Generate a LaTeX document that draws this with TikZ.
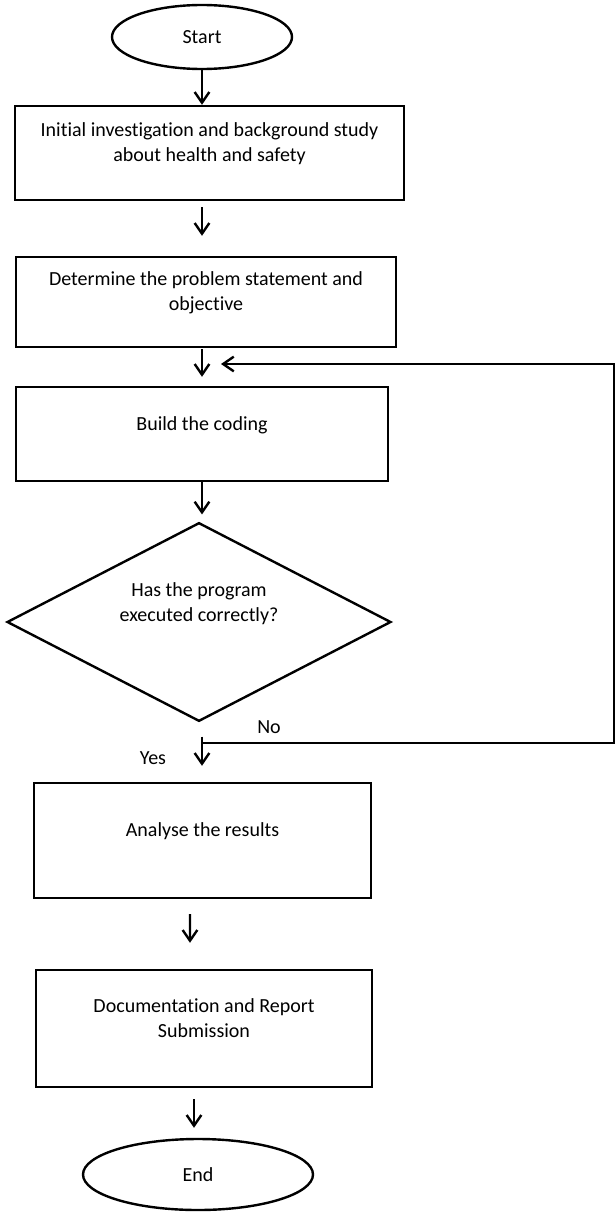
\documentclass[tikz,border=0pt]{standalone}
\usepackage{fontspec}
\setmainfont{Carlito}[Ligatures=NoCommon]
\usetikzlibrary{arrows.meta,shapes.geometric}

\begin{document}
\begin{tikzpicture}[x=0.75pt,y=0.75pt,
  every node/.style={font=\fontsize{15}{18.75}\selectfont},
  terminal/.style={draw,ellipse,line width=1.8pt,inner sep=0pt},
  procbox/.style={draw,rectangle,line width=1.8pt,align=center},
  decision/.style={draw,diamond,aspect=2,line width=1.8pt,align=center,inner sep=0pt},
  flow/.style={line width=1.8pt,-{Straight Barb[length=8pt,width=11pt]}}]
  \useasboundingbox (0,0) rectangle (616,-1213);
  % terminals, steps and the check
  \node[terminal,minimum width=135pt,minimum height=48pt] (start) at (202,-37) {Start};
  \node[procbox,minimum width=291.75pt,minimum height=70.5pt] (investigate) at (209.5,-153)
    {Initial investigation and background study\\about health and safety\\[-2.5pt]\mbox{}};
  \node[procbox,minimum width=285pt,minimum height=67.5pt] (problem) at (206,-302)
    {Determine the problem statement and\\objective\\[-2.5pt]\mbox{}};
  \node[procbox,minimum width=279pt,minimum height=70.5pt] (coding) at (202,-434)
    {Build the coding\\[-2.5pt]\mbox{}};
  \node[decision,minimum width=288pt,minimum height=149pt] (check) at (199,-622)
    {Has the program\\executed correctly?\\[11pt]\mbox{}};
  \node[procbox,minimum width=252.75pt,minimum height=86.25pt] (analyse) at (202.5,-840.5)
    {Analyse the results\\[-2.5pt]\mbox{}};
  \node[procbox,minimum width=252pt,minimum height=87.75pt] (report) at (204,-1028.5)
    {Documentation and Report\\Submission\\[-2.5pt]\mbox{}};
  \node[terminal,minimum width=172.5pt,minimum height=53.25pt] (finish) at (198,-1174.5) {End};
  % branch labels
  \node (no) at (269,-727) {No};
  \node (yes) at (153,-758) {Yes};
  % arrows down the chart
  \draw[flow] (start.south) -- (start.south |- investigate.north);
  \draw[flow,shorten <=4.5pt,shorten >=15pt] (start.south |- investigate.south) -- (start.south |- problem.north);
  \draw[flow,shorten <=0.75pt,shorten >=6.75pt] (problem.south -| coding.north) -- (coding.north);
  \draw[flow,shorten >=5.25pt] (coding.south) -- (coding.south |- check.north);
  \draw[flow,shorten <=10.5pt,shorten >=12pt] (coding.south |- check.south) -- (coding.south |- analyse.north);
  \draw[flow,shorten <=11.25pt,shorten >=19.5pt] ([xshift=-9.4pt]analyse.south) -- ([xshift=-10.5pt]report.north);
  \draw[flow,shorten <=8.25pt,shorten >=7.5pt] ([xshift=-7.5pt]report.south) -- ([xshift=-3pt]finish.north);
  % loop back when the program fails
  \coordinate (yesgap) at (202,-743);
  \coordinate (rail) at (614,-743);
  \coordinate (retry) at (221,-364);
  \draw[flow] (yesgap) -- (rail) |- (retry);
\end{tikzpicture}
\end{document}
